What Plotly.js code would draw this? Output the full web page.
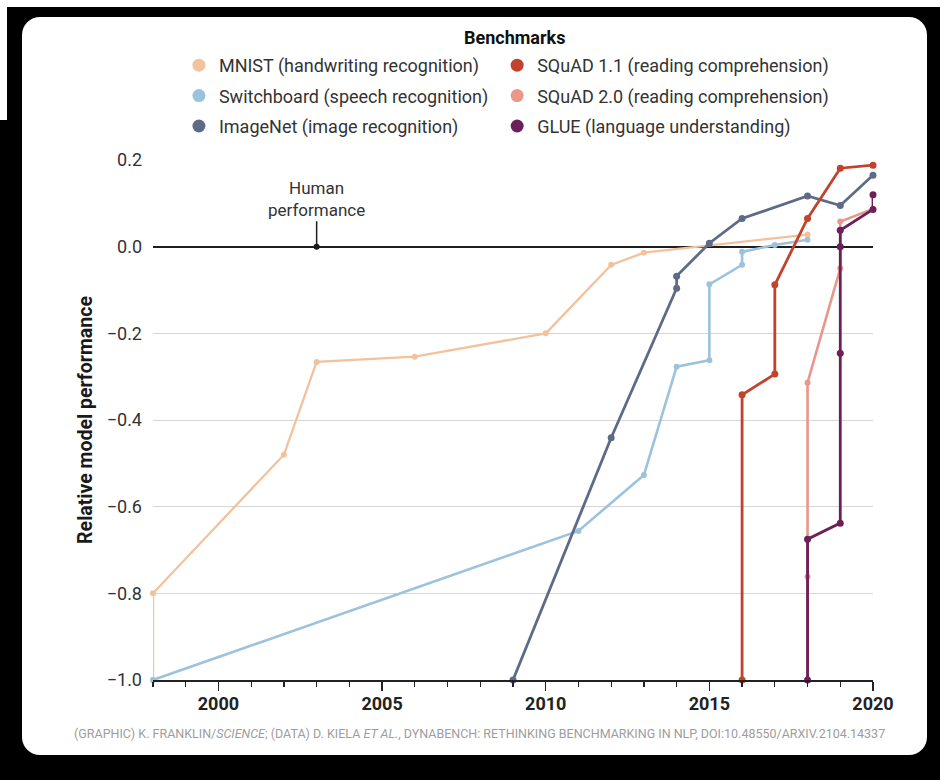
<!DOCTYPE html>
<html>
<head>
<meta charset="utf-8">
<script src="https://cdn.plot.ly/plotly-3.0.1.min.js"></script>
<style>
  html, body { margin: 0; padding: 0; width: 940px; height: 780px; overflow: hidden; background: #000; }
  #topstrip { position: absolute; left: 0; top: 0; width: 940px; height: 7px; background: #fff; }
  #leftstrip { position: absolute; left: 0; top: 0; width: 7px; height: 120px; background: #fff; }
  #card { position: absolute; left: 22px; top: 17px; width: 905px; height: 738px; background: #fff; border-radius: 18px; }
  #chart { position: absolute; left: 0; top: 0; width: 940px; height: 780px; }
</style>
</head>
<body>
<div id="topstrip"></div>
<div id="leftstrip"></div>
<div id="card"></div>
<div id="chart"></div>
<script>
// ---- Data ----
const seriesNames = [
  'MNIST (handwriting recognition)',
  'Switchboard (speech recognition)',
  'ImageNet (image recognition)',
  'SQuAD 1.1 (reading comprehension)',
  'SQuAD 2.0 (reading comprehension)',
  'GLUE (language understanding)'
];
const legendTitle = 'Benchmarks';

const mnistYears = [1998, 1998, 2002, 2003, 2006, 2010, 2012, 2013, 2018];
const mnistPerf  = [-1.0, -0.8, -0.48, -0.266, -0.254, -0.2, -0.042, -0.014, 0.028];

const switchboardYears = [1998, 2011, 2013, 2014, 2015, 2015, 2016, 2016, 2017, 2018];
const switchboardPerf  = [-1.0, -0.656, -0.527, -0.277, -0.262, -0.087, -0.042, -0.012, 0.004, 0.016];

const imagenetYears = [2009, 2012, 2014, 2014, 2015, 2016, 2018, 2019, 2020];
const imagenetPerf  = [-1.0, -0.441, -0.096, -0.068, 0.008, 0.065, 0.117, 0.095, 0.165];

const squad11Years = [2016, 2016, 2017, 2017, 2018, 2019, 2020];
const squad11Perf  = [-1.0, -0.342, -0.294, -0.088, 0.065, 0.181, 0.188];

const squad20Years = [2018, 2018, 2018, 2019, 2019, 2020];
const squad20Perf  = [-1.0, -0.762, -0.314, -0.05, 0.058, 0.087];

const glueYears = [2018, 2018, 2019, 2019, 2019, 2019, 2020, 2020];
const gluePerf  = [-1.0, -0.675, -0.638, -0.246, 0.0, 0.038, 0.086, 0.12];

const humanYear = [2003];
const humanPerf = [0];

const yTickVals = [-1.0, -0.8, -0.6, -0.4, -0.2, 0.0, 0.2];
const xTickVals = [2000, 2005, 2010, 2015, 2020];

const footerText = '(GRAPHIC) K. FRANKLIN/<i>SCIENCE</i>; (DATA) D. KIELA <i>ET AL.</i>, DYNABENCH: RETHINKING BENCHMARKING IN NLP, DOI:10.48550/ARXIV.2104.14337';

// ---- Styles ----
const colors = {
  mnist: '#F2C29D',
  switchboard: '#9CC3DE',
  imagenet: '#5E6B87',
  squad11: '#C2432D',
  squad20: '#E8978A',
  glue: '#6B2059'
};
const FONT = 'Roboto, "Noto Sans", "Liberation Sans", sans-serif';

function lineTrace(x, y, color, width, msize) {
  return {
    x: x, y: y, type: 'scatter', mode: 'lines+markers',
    line: {color: color, width: width},
    marker: {color: color, size: msize},
    showlegend: false, hoverinfo: 'skip', cliponaxis: false
  };
}
function legendTrace(name, color, legendId) {
  return {
    x: [null], y: [null], type: 'scatter', mode: 'markers', name: name,
    marker: {color: color, size: 13}, showlegend: true, hoverinfo: 'skip',
    legend: legendId, legendgroup: name
  };
}

const data = [
  // legend entries: two columns (two vertical legends)
  legendTrace(seriesNames[0], colors.mnist, 'legend'),
  legendTrace(seriesNames[1], colors.switchboard, 'legend'),
  legendTrace(seriesNames[2], colors.imagenet, 'legend'),
  legendTrace(seriesNames[3], colors.squad11, 'legend2'),
  legendTrace(seriesNames[4], colors.squad20, 'legend2'),
  legendTrace(seriesNames[5], colors.glue, 'legend2'),
  // drawn series
  lineTrace(mnistYears, mnistPerf, colors.mnist, 2.3, 6),
  lineTrace(switchboardYears, switchboardPerf, colors.switchboard, 2.6, 6),
  lineTrace(imagenetYears, imagenetPerf, colors.imagenet, 2.8, 7),
  lineTrace(squad20Years, squad20Perf, colors.squad20, 2.6, 6),
  lineTrace(squad11Years, squad11Perf, colors.squad11, 2.8, 7),
  lineTrace(glueYears, gluePerf, colors.glue, 2.8, 7),
  {
    x: humanYear, y: humanPerf, type: 'scatter', mode: 'markers',
    marker: {color: '#1a1a1a', size: 6}, showlegend: false, hoverinfo: 'skip', cliponaxis: false
  }
];

const legendFont = {family: FONT, size: 18, color: '#333'};
function columnLegend(x) {
  return {
    orientation: 'v',
    x: x, xanchor: 'left',
    y: 1.2173, yanchor: 'top',
    traceorder: 'grouped', tracegroupgap: 4,
    font: legendFont,
    bgcolor: 'rgba(0,0,0,0)'
  };
}

const layout = {
  width: 940, height: 780,
  margin: {l: 153, r: 67, t: 160, b: 100},
  paper_bgcolor: 'rgba(0,0,0,0)',
  plot_bgcolor: 'rgba(0,0,0,0)',
  font: {family: FONT, size: 18, color: '#333'},
  showlegend: true,
  legend: columnLegend(0.036),
  legend2: columnLegend(0.478),
  xaxis: {
    range: [1998, 2020],
    tickvals: xTickVals,
    ticks: 'outside', ticklen: 9, tickwidth: 1.5, tickcolor: '#222',
    ticklabelstandoff: -3,
    tickfont: {family: FONT, size: 18, color: '#222', weight: 'bold'},
    showline: true, linecolor: '#222', linewidth: 2,
    showgrid: false, zeroline: false,
    minor: {dtick: 1, tick0: 1998, ticks: 'outside', ticklen: 5, tickwidth: 1.2, tickcolor: '#222', showgrid: false},
    fixedrange: true
  },
  yaxis: {
    range: [-1.0, 0.2],
    tickvals: yTickVals,
    tickformat: '.1f',
    ticks: '',
    ticklabelstandoff: 10,
    tickfont: {family: FONT, size: 18, color: '#333'},
    showgrid: true, gridcolor: '#d6d6d6', gridwidth: 1,
    zeroline: true, zerolinecolor: '#1e1e1e', zerolinewidth: 2,
    showline: false,
    title: {text: 'Relative model performance', standoff: 8,
            font: {family: FONT, size: 19.5, color: '#1a1a1a', weight: 'bold'}},
    fixedrange: true
  },
  annotations: [
    {
      x: 0.5014, y: 1.2365, xref: 'paper', yref: 'paper',
      xanchor: 'center', yanchor: 'middle', showarrow: false,
      text: '<b>' + legendTitle + '</b>',
      font: {family: FONT, size: 18, color: '#111'}
    },
    {
      x: humanYear[0], y: humanPerf[0], xref: 'x', yref: 'y',
      text: 'Human<br>performance', showarrow: true,
      arrowhead: 0, arrowwidth: 1.5, arrowcolor: '#1e1e1e',
      ax: 0, ay: -48, standoff: 0,
      font: {family: FONT, size: 17, color: '#333'}
    },
    {
      x: 0.4528, y: -0.102, xref: 'paper', yref: 'paper',
      xanchor: 'center', yanchor: 'middle', showarrow: false,
      text: footerText,
      font: {family: FONT, size: 12.5, color: '#9d9d9d'}
    }
  ]
};

Plotly.newPlot('chart', data, layout, {displayModeBar: false, staticPlot: true});
</script>
</body>
</html>
